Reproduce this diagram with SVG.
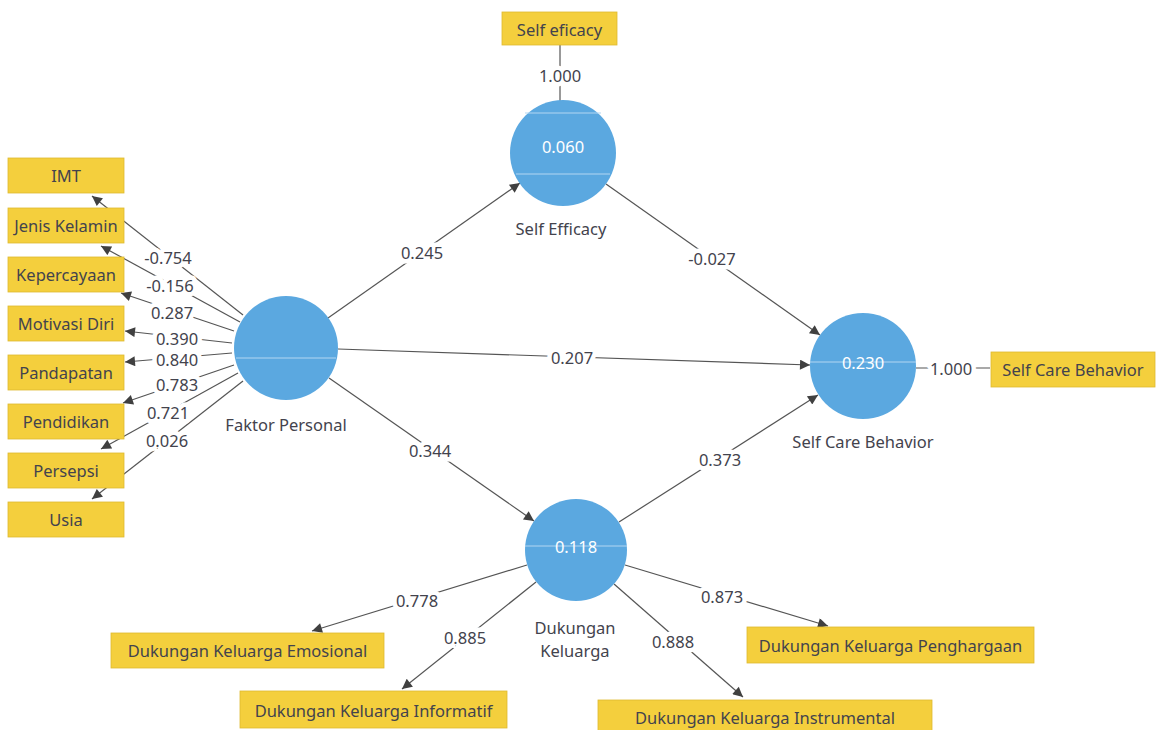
<svg xmlns="http://www.w3.org/2000/svg" width="1159" height="730" viewBox="0 0 1159 730">
<style>
text{font-family:"Noto Sans","Open Sans","DejaVu Sans",sans-serif;font-size:16.5px;fill:#43434d;}
.box{fill:#f4cf3d;stroke:#dfb930;stroke-width:0.8;}
.lv{fill:#5ba8e0;}
.hl{stroke:#b3d6f2;stroke-width:1;}
.val{fill:#ffffff;text-anchor:middle;dominant-baseline:central;}
.bt{text-anchor:middle;dominant-baseline:central;}
.lbl{text-anchor:middle;dominant-baseline:central;}
.w{text-anchor:middle;dominant-baseline:central;stroke:#ffffff;stroke-width:9;paint-order:stroke;stroke-linejoin:round;}
.c{stroke:#555;stroke-width:1.2;fill:none;}
.a{marker-end:url(#ah);}
</style>
<defs>
<marker id="ah" viewBox="0 0 10 10" refX="10" refY="5" markerWidth="12" markerHeight="10" markerUnits="userSpaceOnUse" orient="auto">
<path d="M0,0 L10,5 L0,10 z" fill="#404040"/>
</marker>
</defs>
<rect width="1159" height="730" fill="#ffffff"/>
<g id="connectors">
<line class="c a" x1="243" y1="315" x2="92" y2="196"/>
<line class="c a" x1="240" y1="322" x2="101" y2="246"/>
<line class="c a" x1="234" y1="331" x2="121" y2="293"/>
<line class="c a" x1="232" y1="343" x2="125" y2="331"/>
<line class="c a" x1="232" y1="353" x2="125" y2="362"/>
<line class="c a" x1="234" y1="365" x2="123" y2="403"/>
<line class="c a" x1="238" y1="373" x2="101" y2="449"/>
<line class="c a" x1="243" y1="381" x2="92" y2="499"/>
<line class="c a" x1="328" y1="318" x2="520" y2="183"/>
<line class="c a" x1="338" y1="349" x2="810" y2="365"/>
<line class="c a" x1="329" y1="378" x2="534" y2="521"/>
<line class="c a" x1="606" y1="184" x2="820" y2="335"/>
<line class="c a" x1="619" y1="522" x2="818" y2="395"/>
<line class="c a" x1="527" y1="565" x2="312" y2="631"/>
<line class="c a" x1="536" y1="582" x2="402" y2="689"/>
<line class="c a" x1="625" y1="565" x2="828" y2="626"/>
<line class="c a" x1="614" y1="584" x2="743" y2="697"/>
<line class="c" x1="560" y1="44" x2="560" y2="101"/>
<line class="c" x1="916" y1="368" x2="990" y2="368"/>
<text class="w" x="168" y="257">-0.754</text>
<text class="w" x="170" y="285">-0.156</text>
<text class="w" x="172" y="312">0.287</text>
<text class="w" x="177" y="338">0.390</text>
<text class="w" x="177" y="359">0.840</text>
<text class="w" x="177" y="384">0.783</text>
<text class="w" x="168" y="412">0.721</text>
<text class="w" x="167" y="440">0.026</text>
<text class="w" x="422" y="252">0.245</text>
<text class="w" x="572" y="357">0.207</text>
<text class="w" x="430" y="450">0.344</text>
<text class="w" x="712" y="258">-0.027</text>
<text class="w" x="720" y="459">0.373</text>
<text class="w" x="417" y="600">0.778</text>
<text class="w" x="465" y="637">0.885</text>
<text class="w" x="722" y="596">0.873</text>
<text class="w" x="673" y="641">0.888</text>
<text class="w" x="560" y="75">1.000</text>
<text class="w" x="951" y="368">1.000</text>
</g>
<g id="IMT"><rect class="box" x="8" y="158" width="116" height="35"/><text class="bt" x="66" y="175.5">IMT</text></g>
<g id="JenisKelamin"><rect class="box" x="8" y="208" width="116" height="35"/><text class="bt" x="66" y="225.5">Jenis Kelamin</text></g>
<g id="Kepercayaan"><rect class="box" x="8" y="257" width="116" height="35"/><text class="bt" x="66" y="274.5">Kepercayaan</text></g>
<g id="MotivasiDiri"><rect class="box" x="8" y="306" width="116" height="35"/><text class="bt" x="66" y="323.5">Motivasi Diri</text></g>
<g id="Pandapatan"><rect class="box" x="8" y="355" width="116" height="35"/><text class="bt" x="66" y="372.5">Pandapatan</text></g>
<g id="Pendidikan"><rect class="box" x="8" y="404" width="116" height="35"/><text class="bt" x="66" y="421.5">Pendidikan</text></g>
<g id="Persepsi"><rect class="box" x="8" y="453" width="116" height="35"/><text class="bt" x="66" y="470.5">Persepsi</text></g>
<g id="Usia"><rect class="box" x="8" y="502" width="116" height="35"/><text class="bt" x="66" y="519.5">Usia</text></g>
<g id="SelfEficacyInd"><rect class="box" x="502" y="12" width="115" height="33"/><text class="bt" x="559.5" y="29">Self eficacy</text></g>
<g id="SelfCareBehaviorInd"><rect class="box" x="991" y="352" width="164" height="35"/><text class="bt" x="1073" y="369.5">Self Care Behavior</text></g>
<g id="DKEmosional"><rect class="box" x="111" y="633" width="273" height="35"/><text class="bt" x="247.5" y="650.5">Dukungan Keluarga Emosional</text></g>
<g id="DKInformatif"><rect class="box" x="240" y="691" width="267" height="37"/><text class="bt" x="373.5" y="710">Dukungan Keluarga Informatif</text></g>
<g id="DKPenghargaan"><rect class="box" x="747" y="627" width="287" height="36"/><text class="bt" x="890.5" y="645">Dukungan Keluarga Penghargaan</text></g>
<g id="DKInstrumental"><rect class="box" x="598" y="700" width="334" height="34"/><text class="bt" x="765" y="717">Dukungan Keluarga Instrumental</text></g>
<g id="FaktorPersonal"><circle class="lv" cx="286" cy="348" r="52"/><line class="hl" x1="236" y1="358" x2="336" y2="358"/><text class="lbl" x="286" y="424">Faktor Personal</text></g>
<g id="SelfEfficacy"><circle class="lv" cx="563" cy="153" r="53"/><line class="hl" x1="525" y1="113" x2="601" y2="113"/><line class="hl" x1="516" y1="174" x2="610" y2="174"/><text class="val" x="563" y="146">0.060</text><text class="lbl" x="561" y="228">Self Efficacy</text></g>
<g id="SelfCareBehavior"><circle class="lv" cx="863" cy="366" r="53"/><line class="hl" x1="810" y1="362" x2="916" y2="362"/><text class="val" x="863" y="362">0.230</text><text class="lbl" x="863" y="441">Self Care Behavior</text></g>
<g id="DukunganKeluarga"><circle class="lv" cx="576" cy="550" r="51"/><line class="hl" x1="525" y1="546" x2="627" y2="546"/><text class="val" x="576" y="546">0.118</text><text class="lbl" x="575" y="627">Dukungan</text><text class="lbl" x="575" y="650">Keluarga</text></g>
</svg>
